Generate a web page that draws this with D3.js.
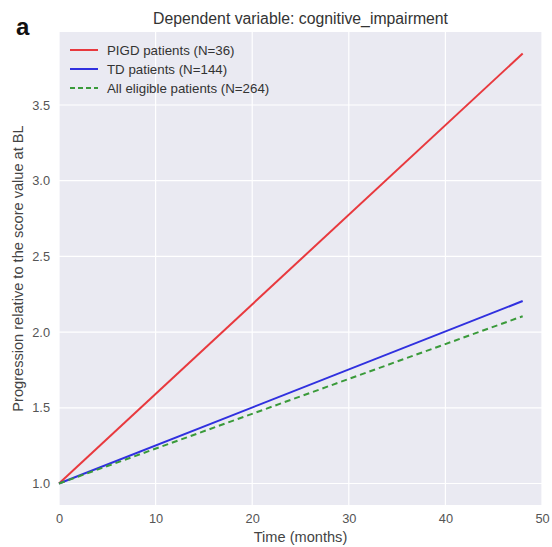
<!DOCTYPE html>
<html>
<head>
<meta charset="utf-8">
<script src="https://cdn.jsdelivr.net/npm/d3@7"></script>
<style>
  body { margin: 0; background: #fff; }
  text { font-family: "Liberation Sans", Arial, sans-serif; }
</style>
</head>
<body>
<div id="chart"></div>
<script>
// Time points (months) and progression values
const months = [0, 48];
const pigd = [1.0, 3.84];
const td = [1.0, 2.205];
const allEligible = [1.0, 2.105];

const xTicks = [0, 10, 20, 30, 40, 50];
const yTicks = [1.0, 1.5, 2.0, 2.5, 3.0, 3.5];

const series = [
    { name: "PIGD patients (N=36)", values: pigd, color: "#e8393e", dash: null },
    { name: "TD patients (N=144)", values: td, color: "#3030df", dash: null },
    { name: "All eligible patients (N=264)", values: allEligible, color: "#3a9a3a", dash: "6,4" }
];

const width = 552, height = 547;
const margin = { top: 32, right: 10, bottom: 42, left: 59 };

const svg = d3.select("#chart")
    .append("svg")
    .attr("width", width)
    .attr("height", height);

const x = d3.scaleLinear()
    .domain([0, 50])
    .range([margin.left, width - margin.right]);

const y = d3.scaleLinear()
    .domain([0.858, 3.982])
    .range([height - margin.bottom, margin.top]);

// Axes background (seaborn darkgrid)
svg.append("rect")
    .attr("x", x(0))
    .attr("y", y(3.982))
    .attr("width", x(50) - x(0))
    .attr("height", y(0.858) - y(3.982))
    .attr("fill", "#eaeaf2");

// Grid lines
svg.append("g")
    .selectAll("line")
    .data(xTicks)
    .join("line")
    .attr("x1", d => x(d)).attr("x2", d => x(d))
    .attr("y1", y(3.982)).attr("y2", y(0.858))
    .attr("stroke", "#fff")
    .attr("stroke-width", 1.2);

svg.append("g")
    .selectAll("line")
    .data(yTicks)
    .join("line")
    .attr("x1", x(0)).attr("x2", x(50))
    .attr("y1", d => y(d)).attr("y2", d => y(d))
    .attr("stroke", "#fff")
    .attr("stroke-width", 1.2);

// Axes (no spines, just labels)
const xAxis = svg.append("g")
    .attr("transform", `translate(0,${y(0.858)})`)
    .call(d3.axisBottom(x).tickValues(xTicks).tickSize(0).tickPadding(9).tickFormat(d3.format("d")));
xAxis.select(".domain").remove();
xAxis.selectAll("text").attr("fill", "#555").style("font-size", "12.8px");

const yAxis = svg.append("g")
    .attr("transform", `translate(${x(0)},0)`)
    .call(d3.axisLeft(y).tickValues(yTicks).tickSize(0).tickPadding(9).tickFormat(d3.format(".1f")));
yAxis.select(".domain").remove();
yAxis.selectAll("text").attr("fill", "#555").style("font-size", "12.8px");

// Lines
const line = d3.line()
    .x((d, i) => x(months[i]))
    .y(d => y(d));

svg.append("g")
    .selectAll("path")
    .data(series)
    .join("path")
    .attr("d", d => line(d.values))
    .attr("fill", "none")
    .attr("stroke", d => d.color)
    .attr("stroke-width", 2)
    .attr("stroke-dasharray", d => d.dash);

// Legend
const legend = svg.append("g")
    .selectAll("g")
    .data(series)
    .join("g")
    .attr("transform", (d, i) => `translate(70,${50 + i * 19})`);

legend.append("line")
    .attr("x1", 0).attr("x2", 28)
    .attr("stroke", d => d.color)
    .attr("stroke-width", 2)
    .attr("stroke-dasharray", d => d.dash ? "5,3" : null);

legend.append("text")
    .attr("x", 37)
    .attr("dy", "0.35em")
    .attr("fill", "#333")
    .style("font-size", "13.3px")
    .text(d => d.name);

// Title, panel letter and axis labels
svg.append("text")
    .attr("x", (x(0) + x(50)) / 2)
    .attr("y", 24)
    .attr("text-anchor", "middle")
    .attr("fill", "#333")
    .style("font-size", "15.8px")
    .text("Dependent variable: cognitive_impairment");

svg.append("text")
    .attr("x", 16)
    .attr("y", 35)
    .attr("fill", "#111")
    .style("font-size", "24px")
    .style("font-weight", "bold")
    .text("a");

svg.append("text")
    .attr("x", (x(0) + x(50)) / 2)
    .attr("y", 542)
    .attr("text-anchor", "middle")
    .attr("fill", "#444")
    .style("font-size", "14.6px")
    .text("Time (months)");

svg.append("text")
    .attr("transform", `translate(23,${(y(3.982) + y(0.858)) / 2}) rotate(-90)`)
    .attr("text-anchor", "middle")
    .attr("fill", "#444")
    .style("font-size", "14.6px")
    .text("Progression relative to the score value at BL");
</script>
</body>
</html>
